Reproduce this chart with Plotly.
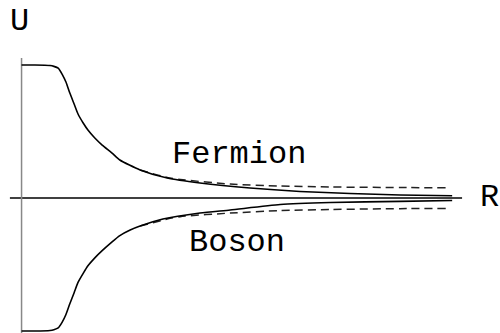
import plotly.graph_objects as go

# Fermion / Boson potentials U(R)
r_fermion = [0.0, 0.31, 0.66, 0.75, 0.85, 0.94, 1.03, 1.12, 1.22, 1.31, 1.43, 1.54, 1.70,
             1.87, 2.10, 2.28, 2.75, 3.38, 4.14, 5.30, 6.46, 7.62, 8.78, 9.99]
u_fermion = [1.0, 1.0, 0.996, 0.99, 0.977, 0.932, 0.872, 0.789, 0.707, 0.632, 0.564, 0.511, 0.451,
             0.398, 0.338, 0.286, 0.211, 0.150, 0.113, 0.075, 0.049, 0.034, 0.023, 0.017]

r_boson = [0.0, 0.31, 0.66, 0.75, 0.85, 0.94, 1.03, 1.12, 1.22, 1.31, 1.43, 1.54, 1.70,
           1.87, 2.10, 2.28, 2.52, 2.75, 3.28, 4.14, 4.84, 6.0, 7.16, 8.78, 9.99]
u_boson = [-1.0, -1.0, -0.996, -0.99, -0.977, -0.935, -0.876, -0.795, -0.712, -0.635, -0.567,
           -0.510, -0.450, -0.396, -0.330, -0.283, -0.241, -0.211, -0.158, -0.113, -0.090,
           -0.049, -0.034, -0.025, -0.019]

# asymptotic (dashed) approximations
r_asym = [2.75, 3.38, 3.68, 4.84, 6.0, 7.16, 8.78, 9.85]
u_asym_f = [0.211, 0.154, 0.139, 0.105, 0.090, 0.083, 0.079, 0.077]
u_asym_b = [-0.211, -0.158, -0.14, -0.113, -0.095, -0.086, -0.080, -0.078]

FONT = "Courier New, Liberation Mono, monospace"

fig = go.Figure()

for r, u in [(r_asym, u_asym_f), (r_asym, u_asym_b)]:
    fig.add_trace(go.Scatter(x=r, y=u, mode='lines',
                             line=dict(color='#222222', width=1.5, dash='8px,5px',
                                       shape='spline', smoothing=0.6),
                             showlegend=False, hoverinfo='skip'))

for r, u in [(r_fermion, u_fermion), (r_boson, u_boson)]:
    fig.add_trace(go.Scatter(x=r, y=u, mode='lines',
                             line=dict(color='black', width=1.6, shape='spline', smoothing=0.6),
                             showlegend=False, hoverinfo='skip'))

# axes drawn as lines crossing at the origin
fig.add_shape(type='line', x0=-0.27, x1=10.22, y0=0, y1=0,
              line=dict(color='black', width=1.5), layer='below')
fig.add_shape(type='line', x0=0, x1=0, y0=1.053, y1=-1.02,
              line=dict(color='#888888', width=1.5), layer='below')

labels = [("U", 19, 22), ("R", 489, 197), ("Fermion", 239, 154), ("Boson", 237, 242)]
for txt, px, py in labels:
    fig.add_annotation(text=txt, x=px / 500, y=1 - py / 333, xref='paper', yref='paper',
                       showarrow=False, xanchor='center', yanchor='middle',
                       font=dict(family=FONT, size=32, color='black'))

fig.update_xaxes(range=[-0.5, 11.1], visible=False)
fig.update_yaxes(range=[-1.015, 1.489], visible=False)
fig.update_layout(width=500, height=333, margin=dict(l=0, r=0, t=0, b=0),
                  plot_bgcolor='white', paper_bgcolor='white')

fig.write_html("out.html", config={'displayModeBar': False},
               post_script="document.body.style.margin='0';")
